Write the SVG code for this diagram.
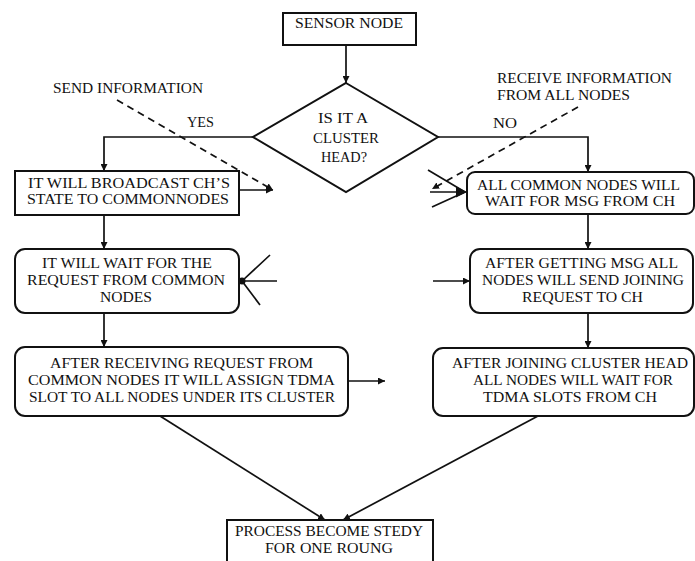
<svg xmlns="http://www.w3.org/2000/svg" width="695" height="561" viewBox="0 0 695 561">
<style>
  text { font-family: "Liberation Serif", "Times New Roman", serif; font-size: 15px; fill: #111; text-anchor: middle; }
  .lbl { text-anchor: start; }
  .box { fill: #fff; stroke: #111; stroke-width: 2; }
  .ln { fill: none; stroke: #111; stroke-width: 1.7; }
  .dash { fill: none; stroke: #111; stroke-width: 1.7; stroke-dasharray: 7 5; }
</style>
<defs>
  <marker id="ah" viewBox="0 0 10 10" refX="10" refY="5" markerWidth="7" markerHeight="7" markerUnits="userSpaceOnUse" orient="auto">
    <path d="M0,0 L10,5 L0,10 z" fill="#111"/>
  </marker>
  <marker id="ahb" viewBox="0 0 10 10" refX="10" refY="5" markerWidth="11" markerHeight="11" markerUnits="userSpaceOnUse" orient="auto">
    <path d="M0,0 L10,5 L0,10 z" fill="#111"/>
  </marker>
</defs>
<rect width="695" height="561" fill="#fff"/>

<g id="connectors">
  <path class="ln" d="M346,45 V83" marker-end="url(#ah)"/>
  <path class="ln" d="M253,137 H104 V171" marker-end="url(#ah)"/>
  <path class="ln" d="M438,137 H588 V172" marker-end="url(#ah)"/>
  <path class="ln" d="M239,190 H273" marker-end="url(#ah)"/>
  <path class="dash" d="M117,100 L273,190" marker-end="url(#ah)"/>
  <path class="ln" d="M104,215 V249" marker-end="url(#ah)"/>
  <path class="ln" d="M104,313 V347" marker-end="url(#ah)"/>
  <path class="ln" d="M270,255 L242,281 M277,281 L242,281 M260,305 L242,281"/>
  <circle cx="242" cy="281" r="3.5" fill="#111"/>
  <path class="ln" d="M348,381 H385" marker-end="url(#ah)"/>
  <path class="ln" d="M428,170 L465,192 M432,207 L465,192"/>
  <path class="ln" d="M430,192 H467" marker-end="url(#ahb)"/>
  <path class="dash" d="M578,107 L432,189" marker-end="url(#ah)"/>
  <path class="ln" d="M588,214 V249" marker-end="url(#ah)"/>
  <path class="ln" d="M433,281 H470" marker-end="url(#ah)"/>
  <path class="ln" d="M588,313 V348" marker-end="url(#ah)"/>
  <path class="ln" d="M160,416 L325,520" marker-end="url(#ah)"/>
  <path class="ln" d="M538,416 L343,520" marker-end="url(#ah)"/>
</g>

<g id="labels">
  <text class="lbl" x="53" y="93" textLength="150" lengthAdjust="spacingAndGlyphs">SEND INFORMATION</text>
  <text class="lbl" x="187" y="127" textLength="27" lengthAdjust="spacingAndGlyphs">YES</text>
  <text class="lbl" x="493" y="128" textLength="24" lengthAdjust="spacingAndGlyphs">NO</text>
  <text class="lbl" x="497" y="83" textLength="175" lengthAdjust="spacingAndGlyphs">RECEIVE INFORMATION</text>
  <text class="lbl" x="497" y="100" textLength="133" lengthAdjust="spacingAndGlyphs">FROM ALL NODES</text>
</g>

<g id="sensor-node">
  <rect class="box" x="283" y="13" width="133" height="32"/>
  <text x="349" y="28" textLength="108" lengthAdjust="spacingAndGlyphs">SENSOR NODE</text>
</g>

<g id="cluster-head-decision">
  <polygon class="box" points="346,83 438,137 346,192 253,137"/>
  <text x="343" y="123" textLength="50" lengthAdjust="spacingAndGlyphs">IS IT A</text>
  <text x="346" y="143" textLength="66" lengthAdjust="spacingAndGlyphs">CLUSTER</text>
  <text x="344" y="162" textLength="46" lengthAdjust="spacingAndGlyphs">HEAD?</text>
</g>

<g id="broadcast">
  <rect class="box" x="15" y="171" width="224" height="44"/>
  <text x="129" y="188" textLength="202" lengthAdjust="spacingAndGlyphs">IT WILL BROADCAST CH’S</text>
  <text x="128" y="204" textLength="202" lengthAdjust="spacingAndGlyphs">STATE TO COMMONNODES</text>
</g>

<g id="wait-request">
  <rect class="box" x="15" y="249" width="224" height="64" rx="10"/>
  <text x="127" y="268" textLength="170" lengthAdjust="spacingAndGlyphs">IT WILL WAIT FOR THE</text>
  <text x="126" y="285" textLength="198" lengthAdjust="spacingAndGlyphs">REQUEST FROM COMMON</text>
  <text x="126" y="302" textLength="52" lengthAdjust="spacingAndGlyphs">NODES</text>
</g>

<g id="assign-tdma">
  <rect class="box" x="15" y="347" width="333" height="69" rx="10"/>
  <text x="181.5" y="368" textLength="263" lengthAdjust="spacingAndGlyphs">AFTER RECEIVING REQUEST FROM</text>
  <text x="181.5" y="385" textLength="307" lengthAdjust="spacingAndGlyphs">COMMON NODES IT WILL ASSIGN TDMA</text>
  <text x="182" y="402" textLength="306" lengthAdjust="spacingAndGlyphs">SLOT TO ALL NODES UNDER ITS CLUSTER</text>
</g>

<g id="wait-msg">
  <rect class="box" x="467" y="172" width="227" height="42" rx="8"/>
  <text x="578.5" y="190" textLength="203" lengthAdjust="spacingAndGlyphs">ALL COMMON NODES WILL</text>
  <text x="580" y="206" textLength="190" lengthAdjust="spacingAndGlyphs">WAIT FOR MSG FROM CH</text>
</g>

<g id="send-joining">
  <rect class="box" x="470" y="249" width="223" height="64" rx="10"/>
  <text x="581.5" y="268" textLength="193" lengthAdjust="spacingAndGlyphs">AFTER GETTING MSG ALL</text>
  <text x="583" y="285" textLength="202" lengthAdjust="spacingAndGlyphs">NODES WILL SEND JOINING</text>
  <text x="582.5" y="302" textLength="121" lengthAdjust="spacingAndGlyphs">REQUEST TO CH</text>
</g>

<g id="wait-tdma">
  <rect class="box" x="433" y="348" width="261" height="68" rx="10"/>
  <text x="570" y="368" textLength="236" lengthAdjust="spacingAndGlyphs">AFTER JOINING CLUSTER HEAD</text>
  <text x="573" y="385" textLength="200" lengthAdjust="spacingAndGlyphs">ALL NODES WILL WAIT FOR</text>
  <text x="570" y="402" textLength="174" lengthAdjust="spacingAndGlyphs">TDMA SLOTS FROM CH</text>
</g>

<g id="steady">
  <rect class="box" x="227" y="520" width="206" height="50"/>
  <text x="329" y="536" textLength="188" lengthAdjust="spacingAndGlyphs">PROCESS BECOME STEDY</text>
  <text x="329" y="553" textLength="128" lengthAdjust="spacingAndGlyphs">FOR ONE ROUNG</text>
</g>
</svg>
